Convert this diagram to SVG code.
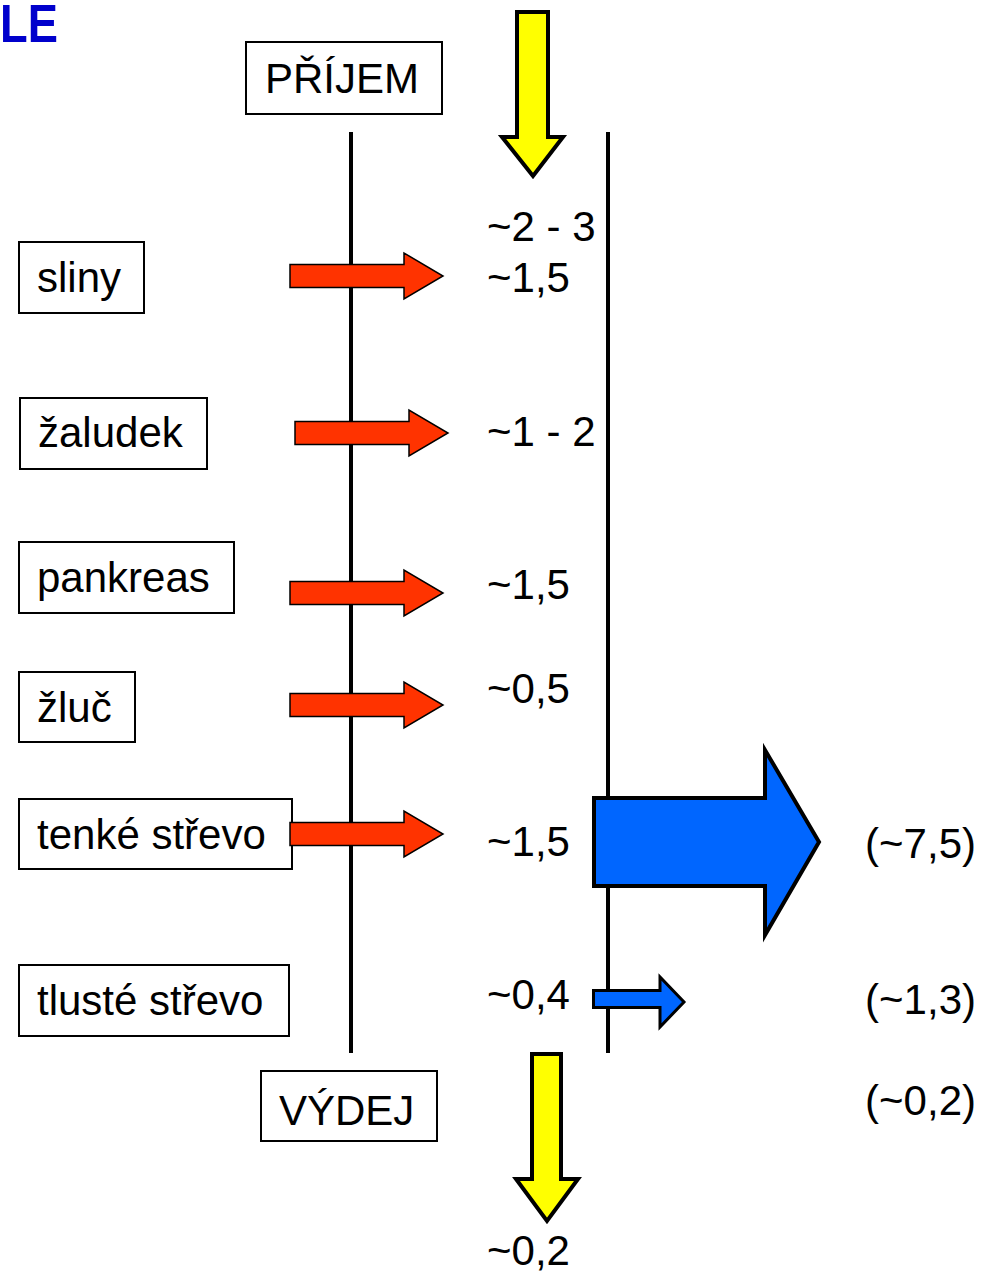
<svg xmlns="http://www.w3.org/2000/svg" width="985" height="1273" viewBox="0 0 985 1273">
<style>
text{font-family:"Liberation Sans",Arial,sans-serif;font-size:42px;fill:#000}
.box{fill:#fff;stroke:#000;stroke-width:2}
.red{fill:#FF3300;stroke:#000;stroke-width:1.5}
.blue{fill:#0066FF;stroke:#000;stroke-width:4}
.yel{fill:#FFFF00;stroke:#000;stroke-width:4}
.vl{stroke:#000;stroke-width:4}
.r{text-anchor:end}
</style>
<rect width="985" height="1273" fill="#fff"/>
<text transform="translate(0,42) scale(0.84,1)" style="font-weight:bold;font-size:54px;fill:#0000CC">LE</text>
<g id="lines">
<line class="vl" x1="351" y1="132" x2="351" y2="1053"/>
<line class="vl" x1="608" y1="132" x2="608" y2="1053"/>
</g>
<g id="prijem"><rect class="box" x="246" y="42" width="196" height="72"/><text x="265" y="93">PŘÍJEM</text></g>
<g id="vydej"><rect class="box" x="261" y="1071" width="176" height="70"/><text x="279" y="1125">VÝDEJ</text></g>
<g id="sliny"><rect class="box" x="19" y="242" width="125" height="71"/><text x="37" y="292">sliny</text></g>
<g id="zaludek"><rect class="box" x="20" y="398" width="187" height="71"/><text x="38" y="447">žaludek</text></g>
<g id="pankreas"><rect class="box" x="19" y="542" width="215" height="71"/><text x="37" y="592">pankreas</text></g>
<g id="zluc"><rect class="box" x="19" y="672" width="116" height="70"/><text x="37" y="722">žluč</text></g>
<g id="tenke"><rect class="box" x="19" y="799" width="273" height="70"/><text x="37" y="849">tenké střevo</text></g>
<g id="tluste"><rect class="box" x="19" y="965" width="270" height="71"/><text x="37" y="1015">tlusté střevo</text></g>
<g id="arrows">
<path class="yel" d="M517,12 H548 V137 H563 L533,176 L502,137 H517 Z"/>
<path class="yel" d="M532,1054 H561 V1179 H578 L547,1221 L516,1179 H532 Z"/>
<path class="red" d="M290,264.5 H404 V253 L443,276 L404,299 V287.5 H290 Z"/>
<path class="red" d="M295,421.5 H409 V410 L448,433 L409,456 V444.5 H295 Z"/>
<path class="red" d="M290,581.5 H404 V570 L443,593 L404,616 V604.5 H290 Z"/>
<path class="red" d="M290,693.5 H404 V682 L443,705 L404,728 V716.5 H290 Z"/>
<path class="red" d="M290,822.5 H404 V811 L443,834 L404,857 V845.5 H290 Z"/>
<path class="blue" d="M594,798 H765 V750 L819,842 L765,935 V886 H594 Z"/>
<path class="blue" style="stroke-width:3" d="M593.5,990.5 H660 V977 L684,1002 L660,1027 V1007.5 H593.5 Z"/>
</g>
<g id="values">
<text x="487" y="241">~2 - 3</text>
<text x="487" y="292">~1,5</text>
<text x="487" y="446">~1 - 2</text>
<text x="487" y="599">~1,5</text>
<text x="487" y="703">~0,5</text>
<text x="487" y="856">~1,5</text>
<text x="487" y="1009">~0,4</text>
<text x="487" y="1265">~0,2</text>
<text class="r" x="976" y="858">(~7,5)</text>
<text class="r" x="976" y="1014">(~1,3)</text>
<text class="r" x="976" y="1115">(~0,2)</text>
</g>
</svg>
